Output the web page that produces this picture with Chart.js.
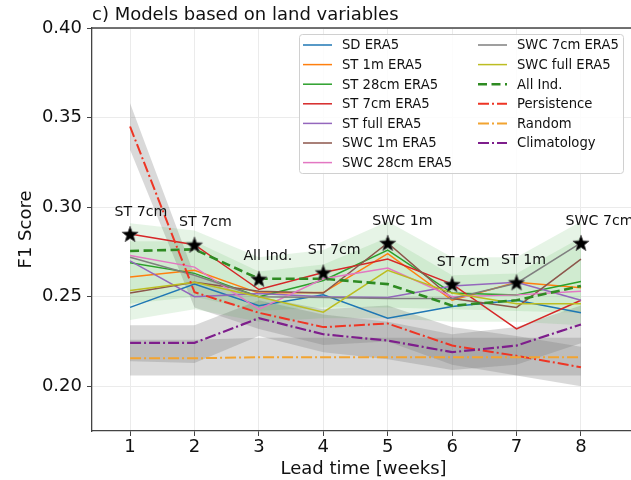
<!DOCTYPE html>
<html>
<head>
<meta charset="utf-8">
<script src="https://cdn.jsdelivr.net/npm/chart.js@4/dist/chart.umd.min.js"></script>
<style>
  html, body { margin: 0; padding: 0; background: #fff; overflow: hidden; }
  #theChart { position: absolute; left: 0; top: 0; }
</style>
</head>
<body>
<canvas id="theChart" width="644" height="480"></canvas>
<script>
// values
const weeks = [1, 2, 3, 4, 5, 6, 7, 8];
const xTicks = [1, 2, 3, 4, 5, 6, 7, 8];
const yTicks = [0.20, 0.25, 0.30, 0.35, 0.40];

const sdEra5    = [0.244, 0.257, 0.245, 0.251, 0.238, 0.2445, 0.248, 0.241];
const st1mEra5  = [0.261, 0.2647, 0.252, 0.2523, 0.274, 0.248, 0.258, 0.255];
const st28Era5  = [0.269, 0.263, 0.250, 0.259, 0.276, 0.252, 0.251, 0.2585];
const st7Era5   = [0.285, 0.279, 0.254, 0.2635, 0.271, 0.257, 0.232, 0.248];
const stFullEra5 = [0.270, 0.250, 0.2518, 0.250, 0.2495, 0.256, 0.258, 0.248];
const swc1mEra5 = [0.252, 0.258, 0.253, 0.252, 0.280, 0.249, 0.244, 0.271];
const swc28Era5 = [0.273, 0.2665, 0.243, 0.260, 0.266, 0.250, 0.251, 0.253];
const swc7Era5  = [0.272, 0.262, 0.250, 0.2496, 0.249, 0.249, 0.2575, 0.280];
const swcFullEra5 = [0.2535, 0.258, 0.250, 0.2413, 0.2647, 0.252, 0.246, 0.246];
const allInd    = [0.2755, 0.2764, 0.260, 0.260, 0.257, 0.245, 0.248, 0.256];
const persistence = [0.345, 0.2525, 0.241, 0.233, 0.235, 0.2227, 0.217, 0.2106];
const randomScore = [0.2156, 0.2156, 0.2162, 0.2162, 0.2162, 0.2162, 0.2162, 0.2162];
const climatology = [0.2242, 0.2242, 0.238, 0.229, 0.2255, 0.219, 0.2227, 0.2345];

// best model each week
const bestValues = [0.285, 0.279, 0.260, 0.2635, 0.280, 0.257, 0.258, 0.280];
const bestLabels = ['ST 7cm', 'ST 7cm', 'All Ind.', 'ST 7cm', 'SWC 1m', 'ST 7cm', 'ST 1m', 'SWC 7cm'];

// shaded ranges
const greenOuterLo = [0.237, 0.243, 0.236, 0.238, 0.238, 0.236, 0.236, 0.234];
const greenOuterHi = [0.291, 0.287, 0.272, 0.276, 0.292, 0.272, 0.272, 0.292];
const greenInnerLo = [0.246, 0.250, 0.242, 0.244, 0.244, 0.243, 0.242, 0.241];
const greenInnerHi = [0.281, 0.281, 0.264, 0.268, 0.283, 0.262, 0.263, 0.283];
const persistLo = [0.332, 0.244, 0.232, 0.223, 0.225, 0.212, 0.206, 0.200];
const persistHi = [0.358, 0.262, 0.250, 0.243, 0.245, 0.233, 0.228, 0.222];
const randomLo  = [0.206, 0.206, 0.206, 0.206, 0.206, 0.206, 0.206, 0.206];
const randomHi  = [0.226, 0.226, 0.227, 0.227, 0.227, 0.227, 0.227, 0.227];
const climLo    = [0.214, 0.213, 0.228, 0.219, 0.215, 0.209, 0.212, 0.224];
const climHi    = [0.234, 0.234, 0.248, 0.240, 0.236, 0.229, 0.233, 0.245];

const FONT = "'DejaVu Sans', sans-serif";

function pts(vals) {
    return weeks.map((w, i) => ({x: w, y: vals[i]}));
}

var bandSets = [];
function addBand(lo, hi, color) {
    bandSets.push({data: pts(lo), borderWidth: 0, pointRadius: 0, fill: false, order: 20});
    bandSets.push({data: pts(hi), borderWidth: 0, pointRadius: 0, fill: '-1', backgroundColor: color, order: 20});
}
addBand(greenOuterLo, greenOuterHi, 'rgba(60,170,60,0.13)');
addBand(greenInnerLo, greenInnerHi, 'rgba(60,170,60,0.13)');
addBand(persistLo, persistHi, 'rgba(120,120,120,0.28)');
addBand(randomLo, randomHi, 'rgba(120,120,120,0.28)');
addBand(climLo, climHi, 'rgba(120,120,120,0.28)');

const models = [
    {label: 'SD ERA5', data: sdEra5, color: '#1f77b4'},
    {label: 'ST 1m ERA5', data: st1mEra5, color: '#ff7f0e'},
    {label: 'ST 28cm ERA5', data: st28Era5, color: '#2ca02c'},
    {label: 'ST 7cm ERA5', data: st7Era5, color: '#d62728'},
    {label: 'ST full ERA5', data: stFullEra5, color: '#9467bd'},
    {label: 'SWC 1m ERA5', data: swc1mEra5, color: '#8c564b'},
    {label: 'SWC 28cm ERA5', data: swc28Era5, color: '#e377c2'},
    {label: 'SWC 7cm ERA5', data: swc7Era5, color: '#7f7f7f'},
    {label: 'SWC full ERA5', data: swcFullEra5, color: '#bcbd22'},
    {label: 'All Ind.', data: allInd, color: '#2e8b22', dash: [9, 4.5], width: 2.6},
    {label: 'Persistence', data: persistence, color: '#ee3524', dash: [11, 3, 2, 3], width: 2},
    {label: 'Random', data: randomScore, color: '#f2a431', dash: [11, 3, 2, 3], width: 2},
    {label: 'Climatology', data: climatology, color: '#7e1e8c', dash: [11, 3, 2, 3], width: 2.2}
];

var lineSets = models.map((m, i) => ({
    label: m.label,
    data: pts(m.data),
    borderColor: m.color,
    borderWidth: m.width || 1.5,
    borderDash: m.dash || [],
    pointRadius: 0,
    fill: false,
    tension: 0,
    order: 15 - i
}));

// filled five point star for the markers
function makeStar() {
    const c = document.createElement('canvas');
    c.width = 20; c.height = 20;
    const g = c.getContext('2d');
    g.beginPath();
    for (let k = 0; k < 10; k++) {
        const r = k % 2 === 0 ? 8.5 : 3.6;
        const a = -Math.PI / 2 + k * Math.PI / 5;
        const px = 10 + r * Math.cos(a), py = 10.8 + r * Math.sin(a);
        if (k === 0) g.moveTo(px, py); else g.lineTo(px, py);
    }
    g.closePath();
    g.fillStyle = '#000';
    g.fill();
    g.strokeStyle = '#555';
    g.lineWidth = 0.8;
    g.stroke();
    return c;
}

var starSet = {
    label: 'best',
    data: pts(bestValues),
    showLine: false,
    pointStyle: makeStar(),
    pointRadius: 9,
    borderWidth: 0,
    order: 0
};

const extras = {
    id: 'extras',
    afterDraw(chart) {
        const ctx = chart.ctx;
        const area = chart.chartArea;
        const xs = chart.scales.x, ys = chart.scales.y;
        ctx.save();
        // top spine
        ctx.strokeStyle = '#444';
        ctx.lineWidth = 1.3;
        ctx.beginPath();
        ctx.moveTo(area.left, area.top);
        ctx.lineTo(area.right, area.top);
        ctx.stroke();

        // title
        ctx.fillStyle = '#111';
        ctx.font = '18px ' + FONT;
        ctx.textAlign = 'left';
        ctx.textBaseline = 'alphabetic';
        ctx.fillText('c) Models based on land variables', 92, 19.5);

        // best-model labels
        ctx.textBaseline = 'middle';
        ctx.font = '14.2px ' + FONT;
        bestValues.forEach((v, i) => {
            ctx.fillText(bestLabels[i], xs.getPixelForValue(weeks[i]) - 15.5, ys.getPixelForValue(v) - 22);
        });

        // legend
        const bx = 299, by = 34, bw = 324, bh = 139;
        ctx.fillStyle = 'rgba(255,255,255,0.85)';
        ctx.strokeStyle = '#d0d0d0';
        ctx.lineWidth = 1;
        ctx.beginPath();
        ctx.roundRect(bx + 0.5, by + 0.5, bw, bh, 3);
        ctx.fill();
        ctx.stroke();
        ctx.font = '13.2px ' + FONT;
        models.forEach((m, i) => {
            const col = i < 7 ? 0 : 1;
            const row = i < 7 ? i : i - 7;
            const lx = col === 0 ? 303 : 478;
            const ly = 45 + row * 19.6;
            ctx.strokeStyle = m.color;
            ctx.lineWidth = m.width || 1.5;
            ctx.setLineDash(m.dash || []);
            ctx.beginPath();
            ctx.moveTo(lx, ly);
            ctx.lineTo(lx + 29, ly);
            ctx.stroke();
            ctx.setLineDash([]);
            ctx.fillStyle = '#111';
            ctx.fillText(m.label, lx + 39, ly + 1);
        });
        ctx.restore();
    }
};

var ctx = document.getElementById('theChart').getContext('2d');
var myChart = new Chart(ctx, {
    type: 'line',
    data: {datasets: bandSets.concat(lineSets, [starSet])},
    options: {
        responsive: false,
        animation: false,
        devicePixelRatio: 1,
        layout: {padding: {top: 28, right: 0, left: 0, bottom: 0}},
        plugins: {legend: {display: false}, tooltip: {enabled: false}},
        scales: {
            x: {
                type: 'linear',
                min: 0.409,
                max: 8.839,
                afterBuildTicks: s => { s.ticks = xTicks.map(v => ({value: v})); },
                afterFit: s => { s.height = 49; },
                ticks: {color: '#111', font: {size: 18, family: FONT}, padding: 1},
                grid: {color: '#ebebeb', tickColor: '#444', tickLength: 5},
                border: {color: '#444', width: 1.3},
                title: {display: true, text: 'Lead time [weeks]', color: '#111',
                        font: {size: 18, family: FONT}, padding: {top: 0, bottom: 0}}
            },
            y: {
                min: 0.175,
                max: 0.40,
                afterBuildTicks: s => { s.ticks = yTicks.map(v => ({value: v})); },
                afterFit: s => { s.width = 92; },
                ticks: {color: '#111', font: {size: 18, family: FONT}, padding: 5,
                        callback: v => v.toFixed(2)},
                grid: {color: '#ebebeb', tickColor: '#444', tickLength: 5},
                border: {color: '#444', width: 1.3},
                title: {display: true, text: 'F1 Score', color: '#111',
                        font: {size: 18, family: FONT}, padding: {top: 16, bottom: 0}}
            }
        }
    },
    plugins: [extras]
});
</script>
</body>
</html>
